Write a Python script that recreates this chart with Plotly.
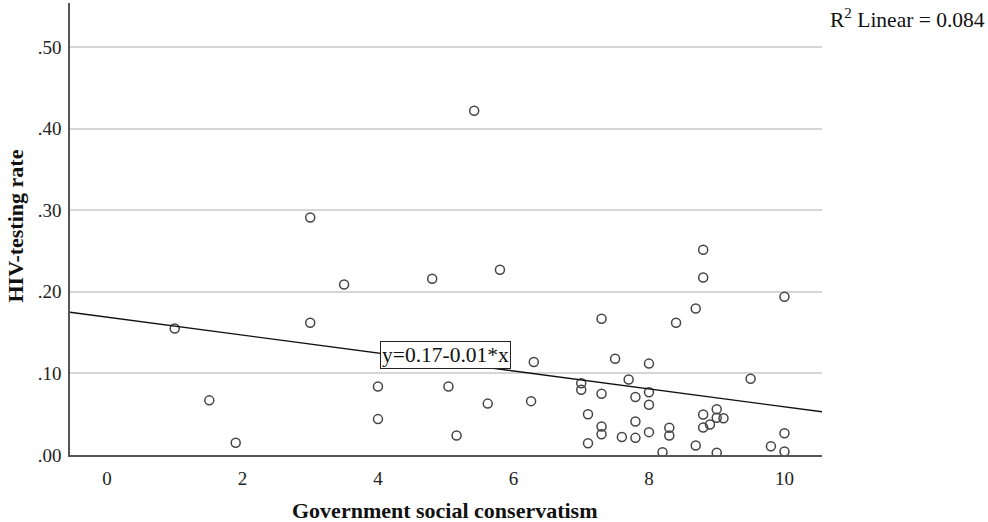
import plotly.graph_objects as go

# Government social conservatism score per country
conservatism = [
    1.0, 1.51, 1.90, 3.0, 3.0,
    3.50, 5.42, 4.80, 5.80, 7.30, 4.0, 4.0, 5.04, 5.16, 5.62, 6.30, 6.26,
    7.0, 7.0, 7.10, 7.10, 7.30, 7.30, 7.30, 7.50, 7.60, 7.70,
    7.80, 7.80, 7.80, 8.0, 8.0, 8.0, 8.0,
    8.69, 8.40, 10.0, 9.50, 8.30, 8.30, 8.20, 8.80, 9.0, 9.0, 9.0, 9.10,
    8.90, 8.80, 8.69, 9.80, 10.0, 10.0,
    8.80, 8.80,
]

# HIV-testing rate per country
hiv_testing = [
    0.155, 0.067, 0.015, 0.291, 0.162,
    0.209, 0.422, 0.216, 0.227, 0.167, 0.084, 0.044, 0.084, 0.024, 0.063, 0.114, 0.066,
    0.088, 0.080, 0.050, 0.0145, 0.075, 0.035, 0.0255, 0.118, 0.022, 0.0925,
    0.071, 0.041, 0.021, 0.112, 0.077, 0.0615, 0.028,
    0.1795, 0.162, 0.194, 0.0934, 0.0333, 0.024, 0.0034, 0.0496, 0.056, 0.0456, 0.0027, 0.0451,
    0.0374, 0.0337, 0.0116, 0.0108, 0.0267, 0.0043,
    0.2515, 0.2175,
]

# Linear fit
intercept = 0.169
slope = -0.011
r_squared = 0.084

x_ticks = [0, 2, 4, 6, 8, 10]
y_ticks = [0.0, 0.1, 0.2, 0.3, 0.4, 0.5]
y_tick_text = [".00", ".10", ".20", ".30", ".40", ".50"]

x_range = [-0.546, 10.554]
y_range = [0.0, 0.554]

serif = "Liberation Serif, Times New Roman, serif"

fig = go.Figure()

fig.add_trace(go.Scatter(
    x=conservatism, y=hiv_testing, mode="markers",
    marker=dict(symbol="circle-open", size=9, color="#444444",
                line=dict(width=1.5, color="#444444")),
    showlegend=False, hoverinfo="x+y",
))

fit_x = x_range
fit_y = [intercept + slope * v for v in fit_x]
fig.add_trace(go.Scatter(
    x=fit_x, y=fit_y, mode="lines",
    line=dict(color="#111111", width=1.4),
    showlegend=False, hoverinfo="skip",
))

fig.add_annotation(
    x=5.0, y=0.122, xref="x", yref="y", xanchor="center", yanchor="middle",
    text=f"y={intercept:.2f}-{abs(slope):.2f}*x",
    showarrow=False, font=dict(family=serif, size=21.5, color="#111111"),
    bgcolor="white", bordercolor="#222222", borderwidth=1, borderpad=1,
)

fig.add_annotation(
    x=1.2194, y=0.9665, xref="paper", yref="paper",
    xanchor="right", yanchor="middle",
    text=f"R<sup>2</sup> Linear = {r_squared:.3f}",
    showarrow=False, font=dict(family=serif, size=21.5, color="#111111"),
)

fig.add_annotation(
    x=-0.0731, y=0.5055, xref="paper", yref="paper",
    xanchor="center", yanchor="middle",
    text="<b>HIV-testing rate</b>", textangle=-90,
    showarrow=False, font=dict(family=serif, size=22, color="#111111"),
)

fig.add_annotation(
    x=0.4987, y=-0.1217, xref="paper", yref="paper",
    xanchor="center", yanchor="middle",
    text="<b>Government social conservatism</b>",
    showarrow=False, font=dict(family=serif, size=22, color="#111111"),
)

fig.update_xaxes(
    range=x_range, tickvals=x_ticks, ticks="", showgrid=False, zeroline=False,
    showline=True, linecolor="#555555", linewidth=1.5,
    tickfont=dict(family=serif, size=19, color="#222222"),
    ticklabelstandoff=5,
)
fig.update_yaxes(
    range=y_range, tickvals=y_ticks, ticktext=y_tick_text, ticks="",
    showgrid=True, gridcolor="#d6d6d6", gridwidth=1.6, zeroline=False,
    showline=True, linecolor="#555555", linewidth=1.5,
    tickfont=dict(family=serif, size=19, color="#222222"),
    ticklabelstandoff=3,
)

fig.update_layout(
    width=988, height=522,
    margin=dict(l=70, r=166, t=3, b=67),
    plot_bgcolor="white", paper_bgcolor="white",
)

fig.write_html("out.html")
